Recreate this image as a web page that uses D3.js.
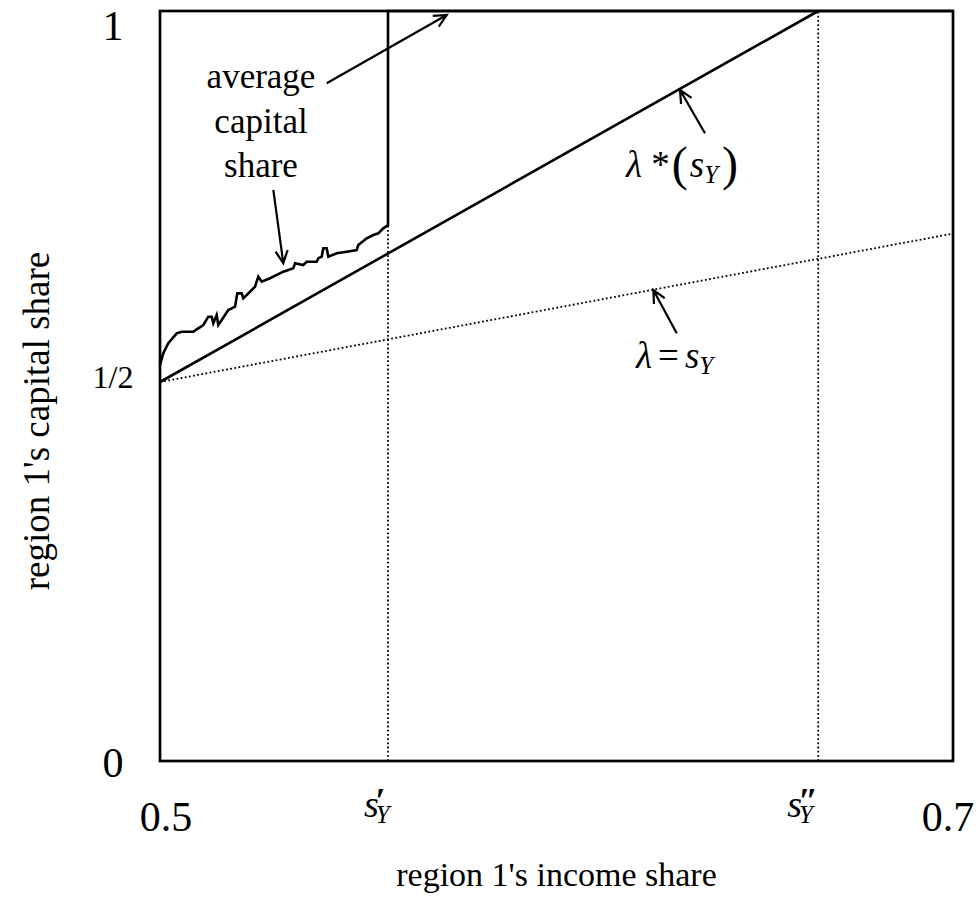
<!DOCTYPE html>
<html>
<head>
<meta charset="utf-8">
<script src="https://cdn.jsdelivr.net/npm/d3@7/dist/d3.min.js"></script>
<style>
  body { margin: 0; background: #fff; }
  text { font-family: "Liberation Serif", "Times New Roman", serif; fill: #000; }
</style>
</head>
<body>
<svg id="chart" width="980" height="909"></svg>
<script>
// Thresholds on region 1's income share
const sPrime = 0.5575;
const sDoublePrime = 0.666;

// Average capital share (simulated path) below the threshold s'_Y
const avgIncome = [
  0.5000, 0.50083, 0.50209, 0.50421, 0.50547, 0.50840, 0.51092, 0.51218, 0.51304,
  0.51344, 0.51430, 0.51470, 0.51556, 0.51723, 0.51808, 0.51892, 0.51950, 0.52061,
  0.52101, 0.52270, 0.52396, 0.52479, 0.52565, 0.52774, 0.53110, 0.53362, 0.53405,
  0.53614, 0.53700, 0.53952, 0.53993, 0.54078, 0.54119, 0.54204, 0.54245, 0.54457,
  0.54709, 0.54961, 0.55001, 0.55213, 0.55380, 0.55506, 0.55632, 0.5575, 0.5575, 0.7
];
const avgCapital = [
  0.5229, 0.5387, 0.5522, 0.5656, 0.5678, 0.5678, 0.5768, 0.5880, 0.5880,
  0.5791, 0.5903, 0.5768, 0.5836, 0.5970, 0.5993, 0.6015, 0.6195, 0.6195,
  0.6128, 0.6217, 0.6284, 0.6419, 0.6352, 0.6398, 0.6487, 0.6532, 0.6600,
  0.6577, 0.6621, 0.6621, 0.6667, 0.6689, 0.6802, 0.6802, 0.6689, 0.6735,
  0.6756, 0.6779, 0.6846, 0.6937, 0.6981, 0.7004, 0.7071, 0.7116, 1, 1
];

// lambda*(s_Y): threshold capital share
const lambdaStarIncome = [0.5, sDoublePrime];
const lambdaStarCapital = [0.5, 1];

// lambda = s_Y reference line
const diagIncome = [0.5, 0.7];
const diagCapital = [0.5, 0.7];

// Axis ticks
const yTickValues = [0, 0.5, 1];
const yTickLabels = ["0", "1/2", "1"];
const xEdgeTicks = [0.5, 0.7];
const xEdgeLabels = ["0.5", "0.7"];
const xSymbolTicks = [sPrime, sDoublePrime];
const xSymbolPrimes = ["\u2032", "\u2033"];

// Annotation arrows: [tailIncome, tailCapital, tipIncome, tipCapital]
const arrowAvgTop = [0.54204, 0.9026, 0.57231, 0.9946];
const arrowAvgPath = [0.52858, 0.7588, 0.53110, 0.6600];
const arrowLambdaStar = [0.63745, 0.8352, 0.63115, 0.8935];
const arrowDiag = [0.63032, 0.5656, 0.62442, 0.6240];

const svg = d3.select("#chart");
const plotLeft = 160, plotRight = 953, plotTop = 11, plotBottom = 761;

const x = d3.scaleLinear().domain([0.5, 0.7]).range([plotLeft, plotRight]);
const y = d3.scaleLinear().domain([1 - (plotBottom - plotTop) / 742, 1]).range([plotBottom, plotTop]);

const line = d3.line().x(d => x(d[0])).y(d => y(d[1]));
const zip = (a, b) => a.map((v, i) => [v, b[i]]);

// Dotted guides
const dotted = { stroke: "#000", "stroke-width": 1.8, "stroke-dasharray": "1.8,2.4", fill: "none" };
function applyAttrs(sel, attrs) { Object.entries(attrs).forEach(([k, v]) => sel.attr(k, v)); return sel; }

applyAttrs(svg.append("path").attr("d", line(zip(diagIncome, diagCapital))), dotted);
applyAttrs(svg.append("path").attr("d", line([[sPrime, y.domain()[0]], [sPrime, 1]])), dotted);
applyAttrs(svg.append("path").attr("d", line([[sDoublePrime, y.domain()[0]], [sDoublePrime, 1]])), dotted);

// Frame
svg.append("rect")
  .attr("x", plotLeft).attr("y", plotTop)
  .attr("width", plotRight - plotLeft).attr("height", plotBottom - plotTop)
  .attr("fill", "none").attr("stroke", "#000").attr("stroke-width", 2.7);

// lambda* line
svg.append("path")
  .attr("d", line(zip(lambdaStarIncome, lambdaStarCapital)))
  .attr("fill", "none").attr("stroke", "#000").attr("stroke-width", 2.6);

// Average capital share path
svg.append("path")
  .attr("d", line(zip(avgIncome, avgCapital)))
  .attr("fill", "none").attr("stroke", "#000").attr("stroke-width", 2.6)
  .attr("stroke-linejoin", "miter");

// Arrows with open heads
function arrow(a) {
  const x0 = x(a[0]), y0 = y(a[1]), x1 = x(a[2]), y1 = y(a[3]);
  const ang = Math.atan2(y1 - y0, x1 - x0);
  const len = 14, spread = 0.45;
  const b1 = [x1 - len * Math.cos(ang - spread), y1 - len * Math.sin(ang - spread)];
  const b2 = [x1 - len * Math.cos(ang + spread), y1 - len * Math.sin(ang + spread)];
  svg.append("path")
    .attr("d", `M${x0},${y0}L${x1},${y1}M${b1[0]},${b1[1]}L${x1},${y1}L${b2[0]},${b2[1]}`)
    .attr("fill", "none").attr("stroke", "#000").attr("stroke-width", 2.2);
}
[arrowAvgTop, arrowAvgPath, arrowLambdaStar, arrowDiag].forEach(arrow);

// Y tick labels
const yLabelStyle = { "0": { size: 42, dy: 24 }, "1/2": { size: 32, dy: 6 }, "1": { size: 42, dy: 29 } };
svg.append("g").selectAll("text")
  .data(yTickValues)
  .join("text")
  .attr("x", 113)
  .attr("y", (d, i) => y(d) + yLabelStyle[yTickLabels[i]].dy)
  .attr("text-anchor", "middle")
  .attr("font-size", (d, i) => yLabelStyle[yTickLabels[i]].size)
  .text((d, i) => yTickLabels[i]);

// X tick labels: numeric edges
svg.append("g").selectAll("text")
  .data(xEdgeTicks)
  .join("text")
  .attr("x", (d, i) => x(d) + (i === 0 ? 6 : -5))
  .attr("y", 831)
  .attr("text-anchor", "middle")
  .attr("font-size", 42)
  .text((d, i) => xEdgeLabels[i]);

// X tick labels: s'_Y and s''_Y, each one text with stacked sub/superscript
xSymbolTicks.forEach((v, i) => {
  const cx = x(v) - (i === 0 ? 24 : 31);
  const t = svg.append("text").attr("x", cx).attr("y", 817).attr("font-style", "italic");
  t.append("tspan").attr("font-size", 38).text("s");
  t.append("tspan").attr("font-size", 25).attr("dy", 6).attr("dx", -3).text("Y");
  t.append("tspan").attr("font-size", 36).attr("font-weight", "bold")
    .attr("x", cx + 11).attr("dy", -10).text(xSymbolPrimes[i]);
});

// Axis titles
svg.append("text")
  .attr("x", (plotLeft + plotRight) / 2).attr("y", 886)
  .attr("text-anchor", "middle").attr("font-size", 34)
  .text("region 1's income share");
svg.append("text")
  .attr("transform", "translate(49,421) rotate(-90)")
  .attr("text-anchor", "middle").attr("font-size", 37)
  .text("region 1's capital share");

// Annotation: average capital share
const avgLabel = svg.append("text").attr("text-anchor", "middle").attr("font-size", 35);
["average", "capital", "share"].forEach((w, i) => {
  avgLabel.append("tspan").attr("x", 261).attr("y", 88 + i * 44.5).text(w);
});

// Annotation: lambda*(s_Y)
const ls = svg.append("text").attr("x", 626).attr("y", 177).attr("font-size", 37);
ls.append("tspan").attr("font-style", "italic").text("\u03bb");
ls.append("tspan").text(" *");
ls.append("tspan").attr("font-size", 48).attr("dy", 3).attr("dx", 2).text("(");
ls.append("tspan").attr("font-style", "italic").attr("dy", -3).attr("dx", 2).text("s");
ls.append("tspan").attr("font-style", "italic").attr("font-size", 25).attr("dy", 6).text("Y");
ls.append("tspan").attr("font-size", 48).attr("dy", -3).attr("dx", 4).text(")");

// Annotation: lambda = s_Y
const ld = svg.append("text").attr("x", 636).attr("y", 368).attr("font-size", 37);
ld.append("tspan").attr("font-style", "italic").text("\u03bb");
ld.append("tspan").attr("dx", 6).text("=");
ld.append("tspan").attr("dx", 6).attr("font-style", "italic").text("s");
ld.append("tspan").attr("font-style", "italic").attr("font-size", 25).attr("dy", 6).text("Y");
</script>
</body>
</html>
